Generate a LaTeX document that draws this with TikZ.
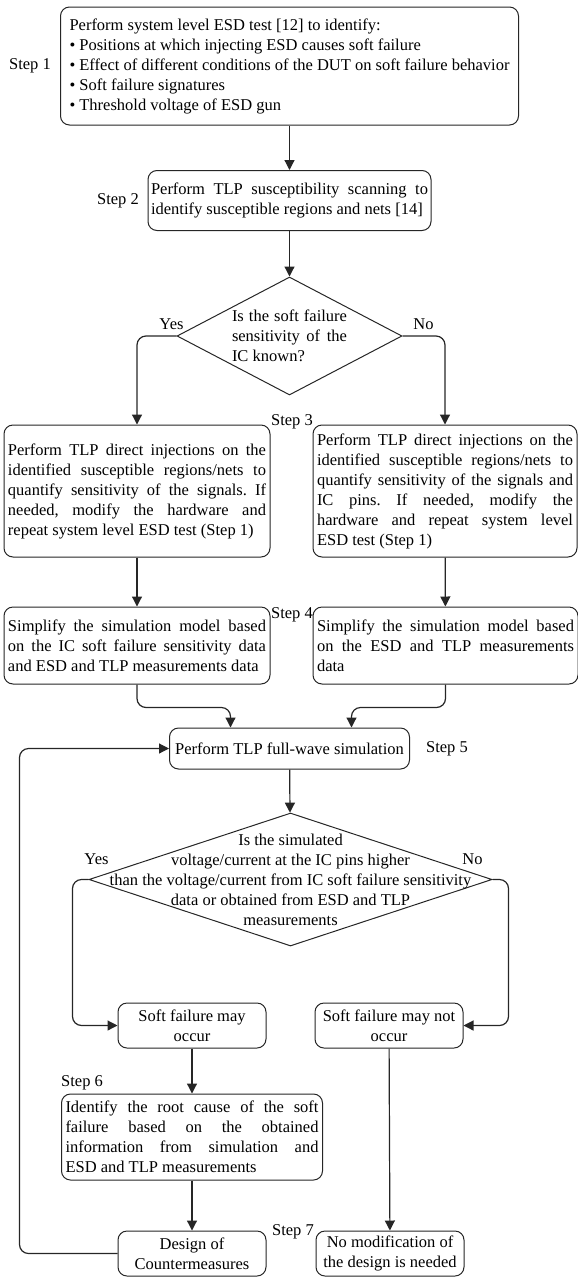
\documentclass[tikz,border=0pt]{standalone}
\usepackage{fontspec}
\setmainfont{Liberation Serif}
\usetikzlibrary{shapes.geometric,calc,arrows.meta,positioning}
\frenchspacing
\tolerance=10000
\hyphenpenalty=10000
\tikzstyle{stepbox} = [rectangle, rounded corners=9pt, draw=black!85, line width=1pt, fill=white, inner xsep=4pt, inner ysep=3pt]
\tikzstyle{decision} = [diamond, draw=black!85, line width=1pt, fill=white, inner sep=0pt]
\tikzstyle{steplabel} = [inner sep=0pt]
\tikzstyle{arrow} = [line width=1.2pt, draw=black!85, ->, >={Triangle[length=10pt,width=10pt]}, rounded corners=9pt]

\begin{document}
\begin{tikzpicture}[x=1pt, y=1pt, node distance=134.5pt, font=\fontsize{16.5}{20}\selectfont]
      \useasboundingbox (0,0) rectangle (578,-1277);
      \node (s1)[stepbox, align=left, minimum width=458pt, minimum height=118pt] at (289.5,-66) {Perform system level ESD test [12] to identify:\\
        \textbullet\ Positions at which injecting ESD causes soft failure\\
        \textbullet\ Effect of different conditions of the DUT on soft failure behavior\\
        \textbullet\ Soft failure signatures\\
        \textbullet\ Threshold voltage of ESD gun};
      \node (s2)[stepbox, below of=s1, inner xsep=3pt, text width=277pt, align=justify, minimum height=60pt]{Perform TLP susceptibility scanning to\linebreak identify susceptible regions and nets [14]};
      \node (d1)[decision, node distance=135.5pt, below of=s2, minimum width=225pt, minimum height=118pt]{};
      \node (d1t)[align=justify, text width=115pt, inner sep=0pt] at (d1) {Is the soft failure\linebreak sensitivity of the\linebreak IC known?};
      \node (s3l)[stepbox, node distance=155pt, below of=d1, xshift=-152.5pt, text width=258pt, align=justify, minimum height=132pt]{Perform TLP direct injections on the\linebreak identified susceptible regions/nets to\linebreak quantify sensitivity of the signals. If\linebreak needed, modify the hardware and\linebreak repeat system level ESD test (Step 1)};
      \node (s3r)[stepbox, node distance=308pt, right of=s3l, text width=256pt, align=justify, minimum height=132pt]{Perform TLP direct injections on the\linebreak identified susceptible regions/nets to\linebreak quantify sensitivity of the signals and\linebreak IC pins. If needed, modify the\linebreak hardware and repeat system level\linebreak ESD test (Step 1)};
      \node (s4l)[stepbox, node distance=154.5pt, below of=s3l, text width=258pt, align=justify, minimum height=77pt]{Simplify the simulation model based\linebreak on the IC soft failure sensitivity data\linebreak and ESD and TLP measurements data};
      \node (s4r)[stepbox, node distance=154.5pt, below of=s3r, xshift=0.5pt, text width=257pt, align=justify, minimum height=77pt]{Simplify the simulation model based\linebreak on the ESD and TLP measurements\linebreak data};
      \node (s5)[stepbox, node distance=412.5pt, below of=d1, minimum width=240pt, minimum height=41pt]{Perform TLP full-wave simulation};
      \node (d2)[decision, node distance=131pt, below of=s5, xshift=1pt, minimum width=403pt, minimum height=133pt]{};
      \node (d2t)[align=center, inner sep=0pt] at (d2) {Is the simulated\\voltage/current at the IC pins higher\\than the voltage/current from IC soft failure sensitivity\\data or obtained from ESD and TLP\\measurements};
      \node (s6l)[stepbox, node distance=146pt, below of=d2, xshift=-98.5pt, align=center, minimum width=148pt, minimum height=45pt]{Soft failure may\\occur};
      \node (s6r)[stepbox, node distance=197pt, right of=s6l, align=center, minimum width=148pt, minimum height=45pt]{Soft failure may not\\occur};
      \node (s7)[stepbox, node distance=111.5pt, below of=s6l, text width=253pt, align=justify, minimum height=86pt]{Identify the root cause of the soft\linebreak failure based on the obtained\linebreak information from simulation and\linebreak ESD and TLP measurements};
      \node (s8l)[stepbox, node distance=116.5pt, below of=s7, align=center, minimum width=148pt, minimum height=45pt]{Design of\\Countermeasures};
      \node (s8r)[stepbox, node distance=198pt, right of=s8l, align=center, minimum width=148pt, minimum height=45pt]{No modification of\\the design is needed};
      % step labels
      \node (st1)[steplabel, node distance=259.5pt, left of=s1]{Step 1};
      \node (st2)[steplabel, node distance=171.5pt, left of=s2]{Step 2};
      \node (st3)[steplabel, node distance=86pt, below of=d1, xshift=2.5pt]{Step 3};
      \node (st4)[steplabel, node distance=193pt, below of=st3]{Step 4};
      \node (st5)[steplabel, node distance=157.5pt, right of=s5]{Step 5};
      \node (st6)[steplabel, anchor=south west, yshift=3pt] at (s7.north west) {Step 6};
      \node (st7)[steplabel, node distance=101pt, right of=s8l, yshift=21.5pt]{Step 7};
      \node (yes1)[steplabel] at ($(d1.west)+(-5pt,12pt)$) {Yes};
      \node (no1)[steplabel] at ($(d1.east)+(21pt,12pt)$) {No};
      \node (yes2)[steplabel] at ($(d2.west)+(8pt,20pt)$) {Yes};
      \node (no2)[steplabel] at ($(d2.east)+(-20pt,20pt)$) {No};
      \draw [arrow](s1)--(s2);
      \draw [arrow](s2)--(d1);
      \draw [arrow](d1.west) -| (s3l.north);
      \draw [arrow](d1.east) -| (s3r.north);
      \draw [arrow](s3l)--(s4l);
      \draw [arrow](s3r)--(s4r);
      \draw [arrow](s4l.south) -- ++(0,-23pt) -| ($(s5.north)+(-59pt,0)$);
      \draw [arrow](s4r.south) -- ++(0,-23pt) -| ($(s5.north)+(62pt,0)$);
      \draw [arrow](s5)--(d2);
      \draw [arrow](d2.west) -- ++(-16pt,0) |- (s6l.west);
      \draw [arrow](d2.east) -- ++(16pt,0) |- (s6r.east);
      \draw [arrow](s6l)--(s7);
      \draw [arrow](s7)--(s8l);
      \draw [arrow](s6r)--(s8r);
      \draw [arrow](s8l.west) -- ++(-98pt,0) |- (s5.west);
    \end{tikzpicture}
\end{document}
